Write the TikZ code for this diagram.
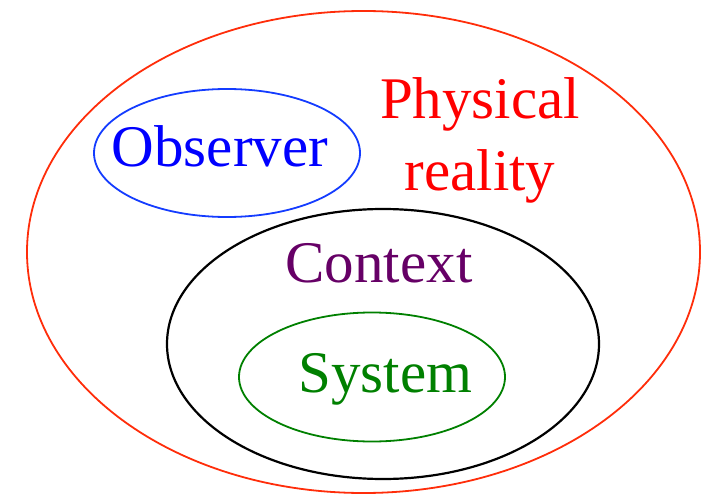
\documentclass[tikz,border=0pt]{standalone}
\usepackage{fontspec}
\setmainfont{Liberation Serif}
\usetikzlibrary{shapes.geometric}
\definecolor{outerred}{RGB}{255,45,10}
\definecolor{obsblue}{RGB}{20,60,255}
\definecolor{ctxpurple}{RGB}{102,0,102}
\definecolor{sysgreen}{RGB}{0,128,0}
\tikzset{
  ring/.style={ellipse, inner sep=0pt, draw, line width=1.8pt},
  label/.style={inner sep=0pt, anchor=base, font=\fontsize{59}{71}\selectfont, align=center}
}
\begin{document}
\begin{tikzpicture}[x=1pt,y=-1pt]
\useasboundingbox (0,0) rectangle (708,494);
\node[ring, draw=outerred, minimum width=673pt, minimum height=482pt] (reality) at (363.5,252) {};
\node[ring, draw=obsblue, minimum width=266pt, minimum height=128pt] (observer) at (227,153) {};
\node[ring, draw=black, line width=2.2pt, minimum width=432pt, minimum height=270pt] (context) at (383,344) {};
\node[ring, draw=sysgreen, minimum width=266pt, minimum height=129pt] (system) at (372,377) {};
\node[label, text=red] (realitytext) at (480,190) {Physical\\reality};
\node[label, text=blue] (observertext) at (220,167) {Observer};
\node[label, text=ctxpurple] (contexttext) at (379,282) {Context};
\node[label, text=sysgreen] (systemtext) at (385.5,392) {System};
\end{tikzpicture}
\end{document}
